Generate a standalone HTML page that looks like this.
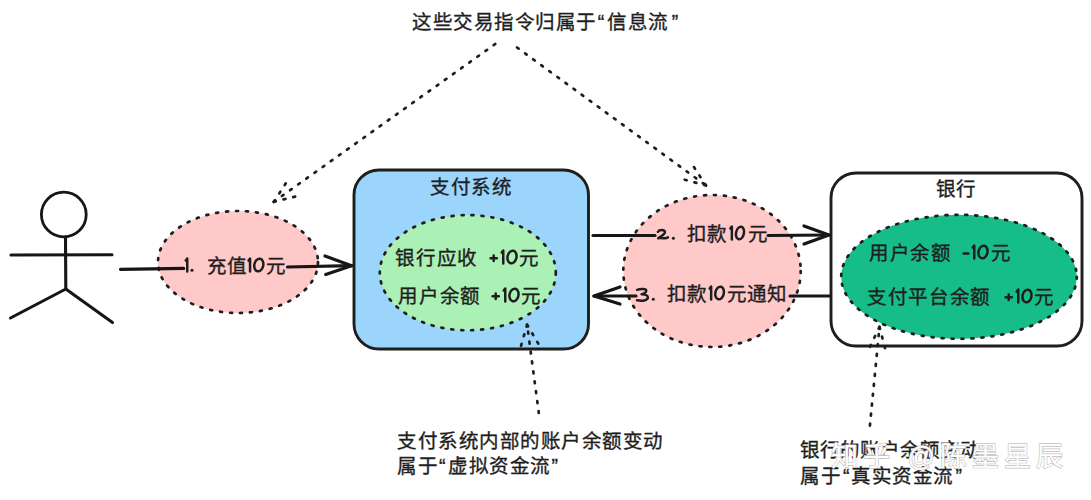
<!DOCTYPE html>
<html lang="zh-CN">
<head>
<meta charset="utf-8">
<style>
html,body{margin:0;padding:0;background:#fff;}
body{width:1091px;height:500px;position:relative;overflow:hidden;font-family:"Liberation Sans",sans-serif;color:#1e1e1e;}
body>svg{position:absolute;left:0;top:0;}
svg.g{display:inline-block;}
.q{margin:0 2px 0 1px}
.n{letter-spacing:0}
.wm{position:absolute;white-space:nowrap;font-size:27px;line-height:40px;letter-spacing:5px;}
.wm1{color:transparent;-webkit-text-stroke:1.3px #c2c2c2;}
.wm2{color:#fff;-webkit-text-stroke:0px #fff;}
.q2{margin:0 1px 0 2px}
.t{position:absolute;white-space:nowrap;font-size:19.5px;line-height:24px;-webkit-text-stroke:0.35px #1e1e1e;}
</style>
</head>
<body>
<svg width="1091" height="500" viewBox="0 0 1091 500">
<g fill="none" stroke="#161616" stroke-width="3.1" stroke-linecap="round" stroke-linejoin="round">
  <!-- stick figure -->
  <circle cx="63.8" cy="214.5" r="22.4" stroke-width="2.8"/>
  <path d="M65.5 237 L65.8 289"/>
  <path d="M11 255 L112 254.7"/>
  <path d="M65.8 289 L10.5 318"/>
  <path d="M65.8 289 L112.5 322.5"/>
</g>
<!-- pink ellipse 1 -->
<ellipse cx="238" cy="262" rx="80" ry="51" fill="#ffc9c9" stroke="#1e1e1e" stroke-width="2.7" stroke-dasharray="2 8" stroke-linecap="round"/>
<!-- blue box -->
<rect x="354" y="170" width="234.5" height="179" rx="25" fill="#9cd5fc" stroke="#1e1e1e" stroke-width="2.9"/>
<ellipse cx="467.8" cy="272.7" rx="88" ry="57.6" fill="#abf0b5" stroke="#1e1e1e" stroke-width="2.7" stroke-dasharray="2 8" stroke-linecap="round"/>
<!-- pink ellipse 2 -->
<ellipse cx="712" cy="271" rx="88.7" ry="76" fill="#ffc9c9" stroke="#1e1e1e" stroke-width="2.7" stroke-dasharray="2 8" stroke-linecap="round"/>
<!-- bank box -->
<rect x="831" y="173" width="251" height="173" rx="25" fill="#fff" stroke="#1e1e1e" stroke-width="2.9"/>
<ellipse cx="959" cy="276.8" rx="117.8" ry="62" fill="#16bd88" stroke="#1e1e1e" stroke-width="2.7" stroke-dasharray="2 8" stroke-linecap="round"/>

<g fill="none" stroke="#161616" stroke-width="3.2" stroke-linecap="round" stroke-linejoin="round">
  <!-- arrow 1 -->
  <path d="M120.5 269.3 L183.7 268.4"/>
  <path d="M287.5 267 L351.6 265.7"/>
  <path d="M325 256 L351.6 265.7 L325.7 274.5"/>
  <!-- arrow 2 -->
  <path d="M593 235.5 L655 235.5"/>
  <path d="M768 235.5 L829 235"/>
  <path d="M804 226 L829 235 L804 244"/>
  <!-- arrow 3 -->
  <path d="M830 296 L790 296"/>
  <path d="M636 296 L594 296"/>
  <path d="M620 287 L594 296 L620 304"/>
</g>
<g fill="none" stroke="#1e1e1e" stroke-width="2.7" stroke-dasharray="2 8" stroke-linecap="round" stroke-linejoin="round">
  <path d="M495.3 44 L273.8 201.8"/>
  <path d="M273.8 201.8 L287 181.5"/><path d="M273.8 201.8 L297.6 196"/>
  <path d="M517 47.5 L706 185.5"/>
  <path d="M706 185.5 L692.7 165.2"/><path d="M706 185.5 L682 179"/>
  <path d="M538.8 413 L527.1 324.7"/>
  <path d="M527.1 324.7 L520.6 347.3"/><path d="M527.1 324.7 L539.4 345.5"/>
  <path d="M869.9 425.6 L879.5 326.9"/>
  <path d="M879.5 326.9 L868 351"/><path d="M879.5 326.9 L886.2 352.9"/>
</g>
</svg>

<div class="t" style="left:412px;top:10px;letter-spacing:0.52px">这些交易指令归属于<span class="q" style="margin-right:2.5px">“</span>信息流<span class="q" style="margin-left:3px">”</span></div>
<div class="t" style="left:184px;top:254px;"><svg class="g" width="22.8" height="24" style="vertical-align:top;overflow:visible" fill="none" stroke="#1e1e1e" stroke-width="2.5" stroke-linecap="round" stroke-linejoin="round"><path d="M1.75 6.6 L3.25 4.6 L3.25 17.4"/><circle cx="8.00" cy="16.3" r="1.55" fill="#1e1e1e" stroke="none"/></svg>充值<svg class="g" width="19.5" height="24" style="vertical-align:top;overflow:visible" fill="none" stroke="#1e1e1e" stroke-width="2.5" stroke-linecap="round" stroke-linejoin="round"><path d="M1.55 6.6 L3.05 4.6 L3.05 17.4"/><ellipse cx="11.80" cy="11" rx="4.45" ry="6.4" transform="rotate(12 11.80 11)"/></svg>元</div>
<div class="t" style="left:430px;top:175px;letter-spacing:0.5px">支付系统</div>
<div class="t" style="left:395px;top:245.5px;letter-spacing:0.75px">银行应收<svg class="g" width="30.7" height="24" style="vertical-align:top;overflow:visible;margin-left:10.5px" fill="none" stroke="#1e1e1e" stroke-width="2.5" stroke-linecap="round" stroke-linejoin="round"><path d="M1.55 12.3 L7.85 12.3 M4.70 9.50 L4.70 15.10"/><path d="M12.75 6.6 L14.25 4.6 L14.25 17.4"/><ellipse cx="23.00" cy="11" rx="4.45" ry="6.4" transform="rotate(12 23.00 11)"/></svg>元</div>
<div class="t" style="left:398px;top:283.5px;letter-spacing:0.75px">用户余额<svg class="g" width="30.7" height="24" style="vertical-align:top;overflow:visible;margin-left:9.5px" fill="none" stroke="#1e1e1e" stroke-width="2.5" stroke-linecap="round" stroke-linejoin="round"><path d="M1.55 12.3 L7.85 12.3 M4.70 9.50 L4.70 15.10"/><path d="M12.75 6.6 L14.25 4.6 L14.25 17.4"/><ellipse cx="23.00" cy="11" rx="4.45" ry="6.4" transform="rotate(12 23.00 11)"/></svg>元</div>
<div class="t" style="left:655px;top:222px;letter-spacing:0.2px"><svg class="g" width="32" height="24" style="vertical-align:top;overflow:visible" fill="none" stroke="#1e1e1e" stroke-width="2.5" stroke-linecap="round" stroke-linejoin="round"><path d="M2.90 9.8 C4.10 7.6 10.10 7.2 10.00 10.2 C9.80 12.6 5.10 14.8 3.20 16.2 C6.10 15.6 8.60 16.4 10.20 16.3 C11.40 16.2 12.20 15.8 12.95 15.4"/><circle cx="18.40" cy="16.3" r="1.55" fill="#1e1e1e" stroke="none"/></svg>扣款<svg class="g" width="20.5" height="24" style="vertical-align:top;overflow:visible" fill="none" stroke="#1e1e1e" stroke-width="2.5" stroke-linecap="round" stroke-linejoin="round"><path d="M3.35 6.6 L4.85 4.6 L4.85 17.4"/><ellipse cx="13.00" cy="11" rx="3.95" ry="6.4" transform="rotate(12 13.00 11)"/></svg>元</div>
<div class="t" style="left:634px;top:282px;letter-spacing:0.4px"><svg class="g" width="33" height="24" style="vertical-align:top;overflow:visible" fill="none" stroke="#1e1e1e" stroke-width="2.5" stroke-linecap="round" stroke-linejoin="round"><path d="M3.10 7.8 C6.20 6.6 12.20 6.4 12.30 8.6 C12.30 10.6 9.70 12 7.50 12.2 C11.20 12 13.90 13.4 13.90 15.6 C13.90 18.6 7.70 19.2 3.00 18.2"/><circle cx="19.30" cy="17.3" r="1.55" fill="#1e1e1e" stroke="none"/></svg>扣款<svg class="g" width="18.8" height="24" style="vertical-align:top;overflow:visible" fill="none" stroke="#1e1e1e" stroke-width="2.5" stroke-linecap="round" stroke-linejoin="round"><path d="M1.65 6.6 L3.15 4.6 L3.15 17.4"/><ellipse cx="11.60" cy="11" rx="4.25" ry="6.4" transform="rotate(12 11.60 11)"/></svg>元通知</div>
<div class="t" style="left:936px;top:176.5px;">银行</div>
<div class="t" style="left:869px;top:240.5px;letter-spacing:0.7px">用户余额<svg class="g" width="28.7" height="24" style="vertical-align:top;overflow:visible;margin-left:10px" fill="none" stroke="#1e1e1e" stroke-width="2.5" stroke-linecap="round" stroke-linejoin="round"><path d="M1.55 12.6 L6.35 12.6"/><path d="M10.75 6.6 L12.25 4.6 L12.25 17.4"/><ellipse cx="21.00" cy="11" rx="4.45" ry="6.4" transform="rotate(12 21.00 11)"/></svg>元</div>
<div class="t" style="left:867px;top:285px;letter-spacing:0.7px">支付平台余额<svg class="g" width="30.7" height="24" style="vertical-align:top;overflow:visible;margin-left:12.5px" fill="none" stroke="#1e1e1e" stroke-width="2.5" stroke-linecap="round" stroke-linejoin="round"><path d="M1.55 12.3 L7.85 12.3 M4.70 9.50 L4.70 15.10"/><path d="M12.75 6.6 L14.25 4.6 L14.25 17.4"/><ellipse cx="23.00" cy="11" rx="4.45" ry="6.4" transform="rotate(12 23.00 11)"/></svg>元</div>
<div class="t" style="left:397px;top:428.5px;letter-spacing:0.5px">支付系统内部的账户余额变动</div>
<div class="t" style="left:397px;top:453.5px;letter-spacing:0.5px">属于<span class="q">“</span>虚拟资金流<span class="q">”</span></div>
<div class="t" style="left:800px;top:437.5px;">银行的账户余额变动</div>
<div class="t" style="left:800px;top:463.5px;letter-spacing:0.5px">属于<span class="q2">“</span>真实资金流<span class="q2">”</span></div>
<div class="wm wm1" style="left:831px;top:437px;">知乎 @陈墨星辰</div>
<div class="wm wm2" style="left:831px;top:437px;">知乎 @陈墨星辰</div>
</body>
</html>
